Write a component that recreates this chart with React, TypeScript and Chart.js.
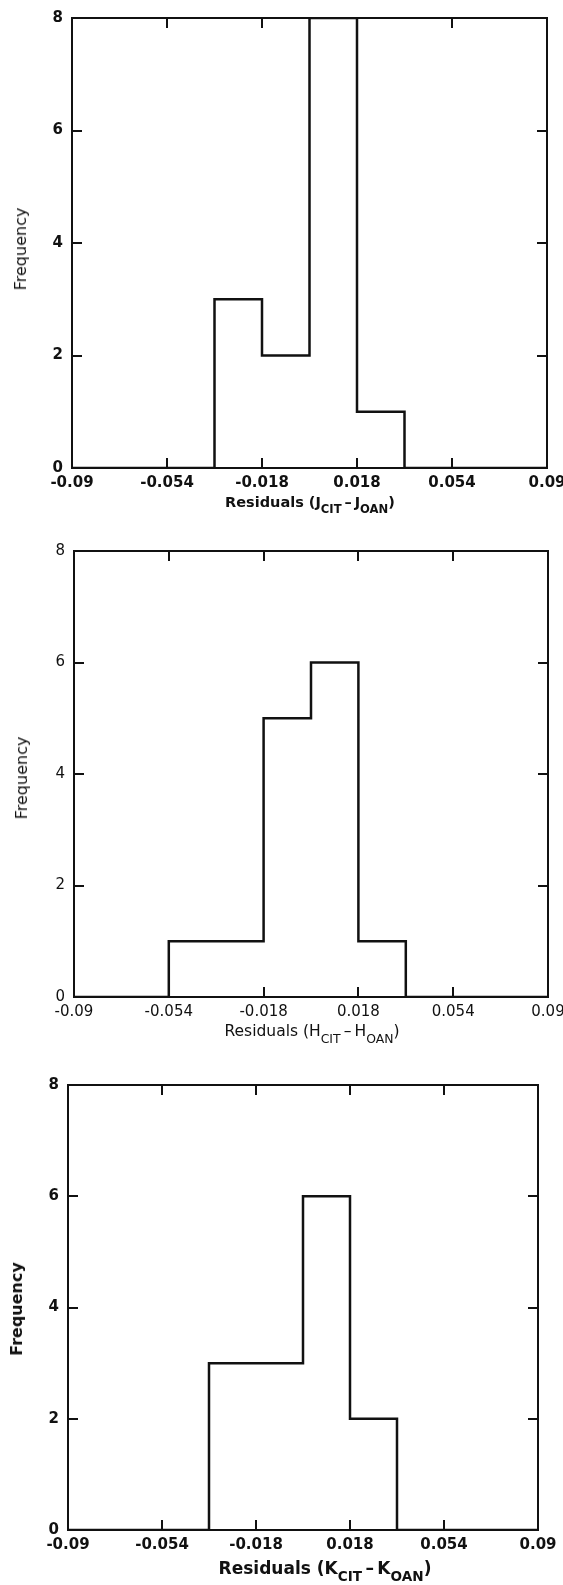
import React, { useEffect, useRef } from "react";
import { Chart, registerables } from "chart.js";

Chart.register(...registerables);

// ---------- data ----------
const BIN_EDGES = [-0.09, -0.072, -0.054, -0.036, -0.018, 0, 0.018, 0.036, 0.054, 0.072, 0.09];
const J_COUNTS = [0, 0, 0, 3, 2, 8, 1, 0, 0, 0];
const H_COUNTS = [0, 0, 1, 1, 5, 6, 1, 0, 0, 0];
const K_COUNTS = [0, 0, 0, 3, 3, 6, 2, 0, 0, 0];
const X_TICK_VALUES = [-0.09, -0.054, -0.018, 0.018, 0.054, 0.09];
const X_TICK_LABELS = ["-0.09", "-0.054", "-0.018", "0.018", "0.054", "0.09"];
const Y_TICK_VALUES = [0, 2, 4, 6, 8];
const Y_TICK_LABELS = ["0", "2", "4", "6", "8"];
const Y_TITLE = "Frequency";
const X_TITLE_WORD = "Residuals";
const BAND_LETTERS = ["J", "H", "K"];
const SUB_A = "CIT";
const SUB_B = "OAN";

// ---------- layout (positions / styles only) ----------
const LAYOUT = [
  { top: 18, bottom: 468, left: 72, right: 547, bold: true, titleX: 310, titleSize: 14.5, titleBold: true, titleGap: 34, freqX: 21, freqY: 249, freqBold: false },
  { top: 551, bottom: 997, left: 74, right: 548, bold: false, titleX: 312, titleSize: 15.5, titleBold: false, titleGap: 34, freqX: 22, freqY: 778, freqBold: false },
  { top: 1085, bottom: 1530, left: 68, right: 538, bold: true, titleX: 325, titleSize: 17, titleBold: true, titleGap: 38, freqX: 17, freqY: 1309, freqBold: true },
];
const COUNTS = [J_COUNTS, H_COUNTS, K_COUNTS];
const TOP_SPACE = 14;
const BOTTOM_SPACE = 30;
const TICK_LEN = 10;
const INK = "#111";

function labelFor(values: number[], labels: string[], v: number) {
  const i = values.findIndex((t) => Math.abs(t - v) < 1e-9);
  return i >= 0 ? labels[i] : "";
}

function stepPoints(edges: number[], counts: number[]) {
  // outline of the histogram: start on the baseline, then one point per bin edge
  const pts: { x: number; y: number }[] = [{ x: edges[0], y: 0 }];
  counts.forEach((c, i) => pts.push({ x: edges[i], y: c }));
  pts.push({ x: edges[edges.length - 1], y: counts[counts.length - 1] });
  pts.push({ x: edges[edges.length - 1], y: 0 });
  return pts;
}

const framePlugin = {
  id: "frameTicks",
  afterDatasetsDraw(chart: any) {
    const { ctx, chartArea: a, scales } = chart;
    const x = scales.x;
    const y = scales.y;
    ctx.save();
    ctx.strokeStyle = INK;
    ctx.lineWidth = 2;
    ctx.strokeRect(a.left, a.top, a.right - a.left, a.bottom - a.top);
    ctx.beginPath();
    X_TICK_VALUES.filter((v) => v > x.min + 1e-9 && v < x.max - 1e-9).forEach((v) => {
      const px = Math.round(x.getPixelForValue(v));
      ctx.moveTo(px, a.bottom);
      ctx.lineTo(px, a.bottom - TICK_LEN);
      ctx.moveTo(px, a.top);
      ctx.lineTo(px, a.top + TICK_LEN);
    });
    Y_TICK_VALUES.filter((v) => v > y.min + 1e-9 && v < y.max - 1e-9).forEach((v) => {
      const py = Math.round(y.getPixelForValue(v));
      ctx.moveTo(a.left, py);
      ctx.lineTo(a.left + TICK_LEN, py);
      ctx.moveTo(a.right, py);
      ctx.lineTo(a.right - TICK_LEN, py);
    });
    ctx.stroke();
    ctx.restore();
  },
};

function Panel({ idx }: { idx: number }) {
  const ref = useRef<HTMLCanvasElement | null>(null);
  const L = LAYOUT[idx];
  const height = L.bottom - L.top + TOP_SPACE + BOTTOM_SPACE;

  useEffect(() => {
    if (!ref.current) return;
    const font = { family: "'DejaVu Sans', sans-serif", size: 15, weight: L.bold ? "bold" : "normal" } as any;
    const chart = new Chart(ref.current, {
      type: "line",
      data: {
        datasets: [
          {
            data: stepPoints(BIN_EDGES, COUNTS[idx]),
            stepped: "before",
            borderColor: INK,
            borderWidth: 2.5,
            pointRadius: 0,
            fill: false,
          },
        ],
      },
      options: {
        responsive: false,
        animation: false,
        events: [],
        layout: { padding: { top: TOP_SPACE, left: 0, right: 563 - L.right, bottom: 0 } },
        plugins: { legend: { display: false }, tooltip: { enabled: false }, title: { display: false } },
        scales: {
          x: {
            type: "linear",
            min: BIN_EDGES[0],
            max: BIN_EDGES[BIN_EDGES.length - 1],
            afterBuildTicks: (s: any) => {
              s.ticks = X_TICK_VALUES.map((v) => ({ value: v }));
            },
            afterFit: (s: any) => {
              s.height = BOTTOM_SPACE;
              s.paddingLeft = 0;
              s.paddingRight = 0;
            },
            ticks: {
              autoSkip: false,
              maxRotation: 0,
              padding: 6,
              color: INK,
              font,
              callback: (v: any) => labelFor(X_TICK_VALUES, X_TICK_LABELS, Number(v)),
            },
            grid: { display: false, drawTicks: false },
            border: { display: false },
          },
          y: {
            type: "linear",
            min: Y_TICK_VALUES[0],
            max: Y_TICK_VALUES[Y_TICK_VALUES.length - 1],
            afterBuildTicks: (s: any) => {
              s.ticks = Y_TICK_VALUES.map((v) => ({ value: v }));
            },
            afterFit: (s: any) => {
              s.width = L.left;
              s.paddingTop = 0;
              s.paddingBottom = 0;
            },
            ticks: {
              padding: 9,
              color: INK,
              font,
              callback: (v: any) => labelFor(Y_TICK_VALUES, Y_TICK_LABELS, Number(v)),
            },
            grid: { display: false, drawTicks: false },
            border: { display: false },
          },
        },
      } as any,
      plugins: [framePlugin],
    });
    return () => chart.destroy();
  }, [idx]);

  const subStyle: React.CSSProperties = { fontSize: "0.8em", verticalAlign: "-0.55em" };
  const letter = BAND_LETTERS[idx];
  const f = L.titleSize;
  const titleTop = L.bottom + L.titleGap - 0.4815 * f;

  return (
    <>
      <canvas
        ref={ref}
        width={563}
        height={height}
        style={{ position: "absolute", left: 0, top: L.top - TOP_SPACE, width: 563, height }}
      />
      <div
        style={{
          position: "absolute",
          left: L.freqX,
          top: L.freqY,
          transform: "translate(-50%, -50%) rotate(-90deg)",
          fontFamily: "'DejaVu Sans', sans-serif",
          fontSize: 16,
          fontWeight: L.freqBold ? "bold" : "normal",
          color: INK,
          whiteSpace: "nowrap",
          lineHeight: 1,
        }}
      >
        {Y_TITLE}
      </div>
      <div
        style={{
          position: "absolute",
          left: L.titleX,
          top: titleTop,
          transform: "translateX(-50%)",
          fontFamily: "'DejaVu Sans', sans-serif",
          fontSize: f,
          fontWeight: L.titleBold ? "bold" : "normal",
          color: INK,
          whiteSpace: "pre",
          lineHeight: 1,
        }}
      >
        {X_TITLE_WORD + " ("}
        {letter}
        <span style={subStyle}>{SUB_A}</span>
        {"\u2009\u2013\u2009"}
        {letter}
        <span style={subStyle}>{SUB_B}</span>
        {")"}
      </div>
    </>
  );
}

export default function App() {
  return (
    <div style={{ position: "absolute", left: 0, top: 0, width: 563, height: 1585, background: "#fff", overflow: "hidden" }}>
      {LAYOUT.map((_, i) => (
        <Panel key={i} idx={i} />
      ))}
    </div>
  );
}
